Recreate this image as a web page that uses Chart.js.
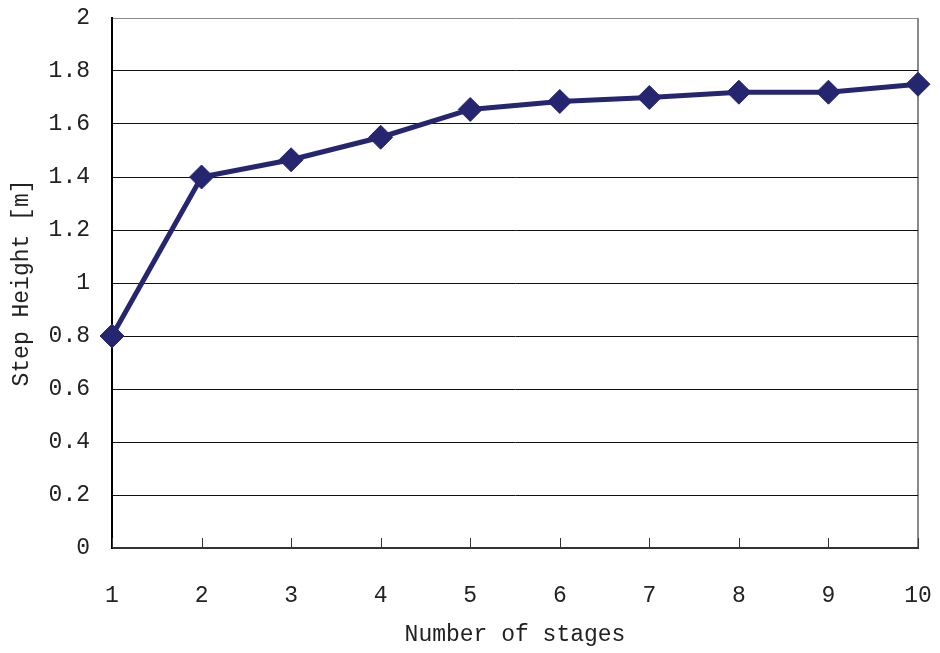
<!DOCTYPE html>
<html>
<head>
<meta charset="utf-8">
<script src="https://cdn.jsdelivr.net/npm/chart.js@4/dist/chart.umd.min.js"></script>
<style>
  html, body { margin: 0; padding: 0; background: #fff; }
  #wrap { width: 940px; height: 653px; }
</style>
</head>
<body>
<div id="wrap"><canvas id="chart" width="940" height="653"></canvas></div>
<script>
// data
var stages = [1, 2, 3, 4, 5, 6, 7, 8, 9, 10];
var stepHeight = [0.80, 1.40, 1.465, 1.55, 1.655, 1.685, 1.70, 1.72, 1.72, 1.75];
var yTicks = [0, 0.2, 0.4, 0.6, 0.8, 1, 1.2, 1.4, 1.6, 1.8, 2];

var navy = '#262670';
var font = "'Liberation Mono', 'DejaVu Sans Mono', monospace";

// small tick marks pointing up into the plot, like the original
var innerTicks = {
  id: 'innerTicks',
  afterDatasetsDraw: function (chart) {
    var ctx = chart.ctx, x = chart.scales.x, bottom = chart.chartArea.bottom;
    ctx.save();
    ctx.strokeStyle = '#333';
    ctx.lineWidth = 1;
    stages.forEach(function (s) {
      var px = Math.round(x.getPixelForValue(s)) + 0.5;
      ctx.beginPath();
      ctx.moveTo(px, bottom);
      ctx.lineTo(px, bottom - 10);
      ctx.stroke();
    });
    ctx.restore();
  }
};

new Chart(document.getElementById('chart'), {
  type: 'line',
  data: {
    datasets: [{
      data: stages.map(function (s, i) { return { x: s, y: stepHeight[i] }; }),
      borderColor: navy,
      backgroundColor: navy,
      borderWidth: 5,
      pointStyle: 'rectRot',
      pointRadius: 12,
      pointBorderWidth: 1,
      pointBackgroundColor: navy,
      pointBorderColor: navy,
      tension: 0,
      clip: false
    }]
  },
  options: {
    responsive: false,
    animation: false,
    layout: { padding: { top: 18, right: 22, left: 0, bottom: 0 } },
    plugins: { legend: { display: false }, tooltip: { enabled: false } },
    scales: {
      x: {
        type: 'linear',
        min: 1,
        max: 10,
        afterFit: function (s) { s.height = 105; s.paddingLeft = 0; s.paddingRight = 0; },
        afterBuildTicks: function (s) { s.ticks = stages.map(function (v) { return { value: v }; }); },
        ticks: { font: { family: font, size: 23 }, color: '#222', padding: 34, maxRotation: 0 },
        grid: {
          drawTicks: false,
          color: function (c) { return c.tick && c.tick.value === 10 ? '#8a8a8a' : 'rgba(0,0,0,0)'; },
          lineWidth: 2
        },
        border: { color: '#333', width: 2 },
        title: {
          display: true,
          text: 'Number of stages',
          font: { family: font, size: 23 },
          color: '#222',
          padding: { top: 0, bottom: 4 }
        }
      },
      y: {
        min: 0,
        max: 2,
        afterFit: function (s) { s.width = 112; s.paddingTop = 0; s.paddingBottom = 0; },
        afterBuildTicks: function (s) { s.ticks = yTicks.map(function (v) { return { value: v }; }); },
        ticks: {
          font: { family: font, size: 23 },
          color: '#222',
          padding: 22,
          callback: function (v) { return String(Math.round(v * 10) / 10); }
        },
        grid: {
          drawTicks: false,
          color: function (c) { return c.tick && c.tick.value === 2 ? '#8a8a8a' : '#111'; },
          lineWidth: 1
        },
        border: { color: '#000', width: 2 },
        title: {
          display: true,
          text: 'Step Height [m]',
          font: { family: font, size: 23 },
          color: '#222',
          padding: { top: 8, bottom: 0 }
        }
      }
    }
  },
  plugins: [innerTicks]
});
</script>
</body>
</html>
